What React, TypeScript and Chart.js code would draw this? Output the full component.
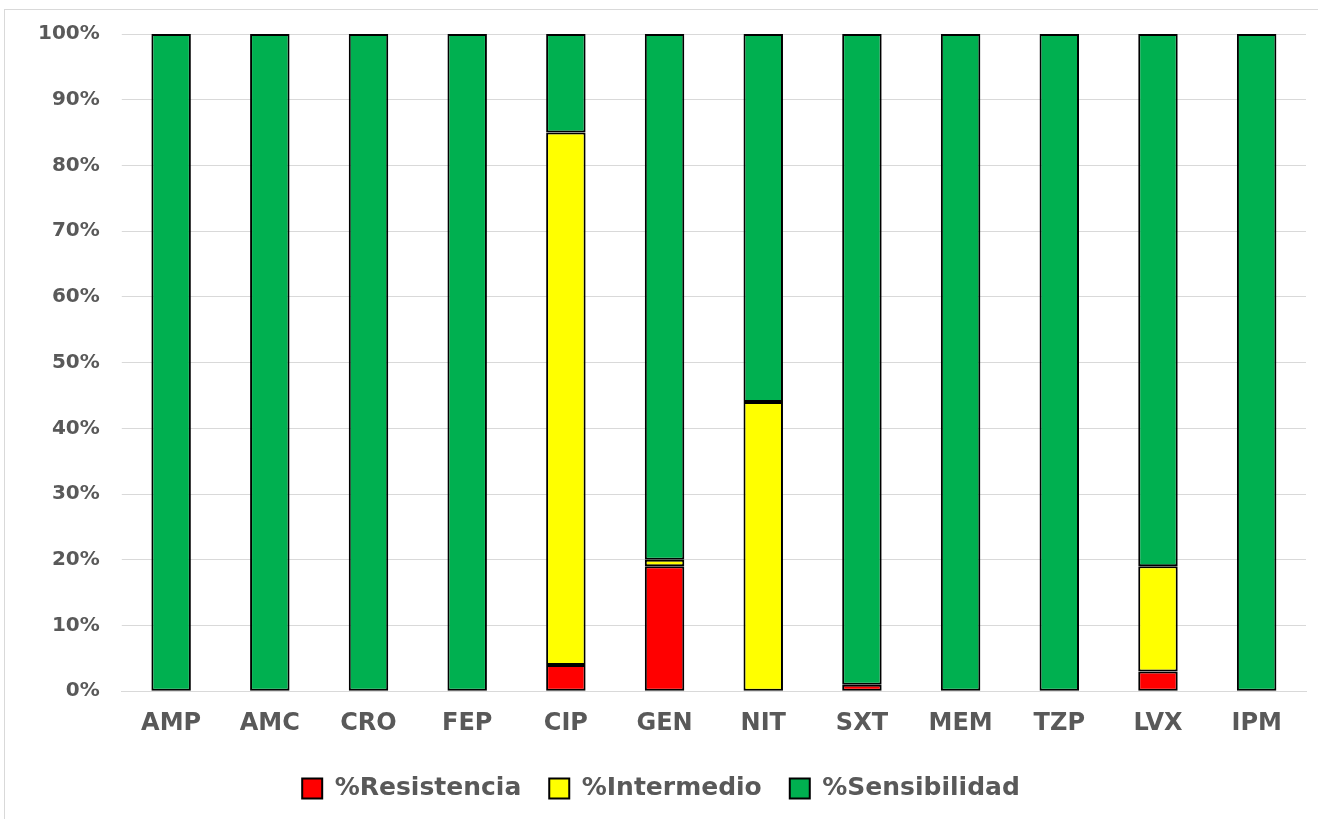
import { useEffect, useRef } from 'react';
import Chart from 'chart.js/auto';

const categories = ['AMP', 'AMC', 'CRO', 'FEP', 'CIP', 'GEN', 'NIT', 'SXT', 'MEM', 'TZP', 'LVX', 'IPM'];
const resistencia = [0, 0, 0, 0, 4, 19, 0, 1, 0, 0, 3, 0];
const intermedio = [0, 0, 0, 0, 81, 1, 44, 0, 0, 0, 16, 0];
const sensibilidad = [100, 100, 100, 100, 15, 80, 56, 99, 100, 100, 81, 100];

export default function App() {
  const chartRef = useRef<HTMLCanvasElement>(null);
  const chartInstance = useRef<Chart | null>(null);

  useEffect(() => {
    document.body.style.margin = '0';
    if (!chartRef.current) return;
    if (chartInstance.current) chartInstance.current.destroy();
    const ctx = chartRef.current.getContext('2d');
    if (!ctx) return;

    // zero segments are left out so they don't draw a stray border line
    const ds = (label: string, data: number[], color: string) => ({
      label,
      data: data.map(v => (v === 0 ? null : v)),
      backgroundColor: color,
      borderColor: '#000',
      borderWidth: 2,
      borderSkipped: false,
      barPercentage: 0.4,
      categoryPercentage: 1,
    });

    const font = 'DejaVu Sans';

    chartInstance.current = new Chart(ctx, {
      type: 'bar',
      data: {
        labels: categories,
        datasets: [
          ds('%Resistencia', resistencia, '#ff0000'),
          ds('%Intermedio', intermedio, '#ffff00'),
          ds('%Sensibilidad', sensibilidad, '#00b050'),
        ],
      },
      options: {
        responsive: false,
        animation: false,
        layout: { padding: { top: 10, right: 12, left: 16, bottom: 8 } },
        plugins: {
          legend: {
            position: 'bottom',
            labels: {
              color: '#595959',
              font: { family: font, size: 25, weight: 'bold' },
              boxWidth: 20,
              boxHeight: 20,
              padding: 28,
              useBorderRadius: false,
            },
          },
          tooltip: { enabled: false },
        },
        scales: {
          x: {
            stacked: true,
            grid: { display: false },
            border: { color: '#d9d9d9' },
            ticks: { color: '#595959', font: { family: font, size: 24, weight: 'bold' }, padding: 10 },
          },
          y: {
            stacked: true,
            min: 0,
            max: 100,
            ticks: {
              stepSize: 10,
              color: '#595959',
              font: { family: font, size: 20, weight: 'bold' },
              padding: 22,
              callback: (v: any) => v + '%',
            },
            grid: { color: '#d9d9d9', tickLength: 0 },
            border: { display: false },
          },
        },
      },
    });

    return () => {
      if (chartInstance.current) chartInstance.current.destroy();
    };
  }, []);

  return (
    <div style={{ width: 1318, height: 819, background: '#fff', position: 'relative', overflow: 'hidden' }}>
      <div style={{ position: 'absolute', left: 4, top: 9, right: 0, bottom: 0, borderLeft: '1px solid #d9d9d9', borderTop: '1px solid #d9d9d9' }} />
      <canvas ref={chartRef} width={1318} height={819} style={{ position: 'absolute', left: 0, top: 0 }} />
    </div>
  );
}
